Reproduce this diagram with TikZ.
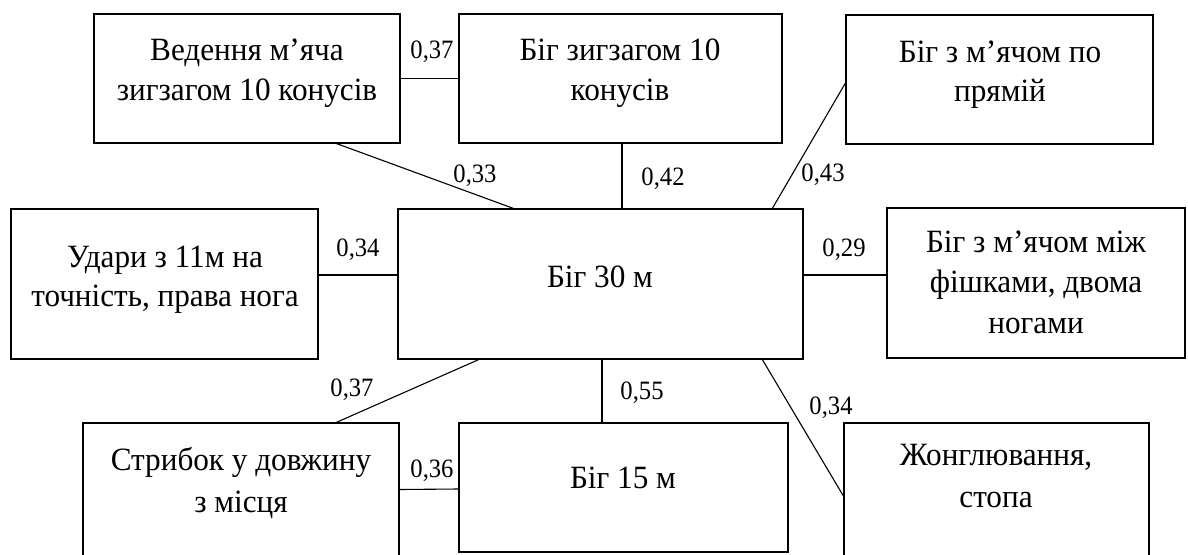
\documentclass[tikz,border=0pt]{standalone}
\usepackage{fontspec}
\setmainfont{Liberation Serif}
\newfontfamily\boxfont[FakeStretch=0.96]{Liberation Serif}
\newfontfamily\valfont[FakeStretch=0.93]{Liberation Serif}
\usetikzlibrary{calc}
\begin{document}
\begin{tikzpicture}[x=1pt,y=-1pt,
  box/.style={draw, line width=2.4pt, inner sep=0pt, outer sep=0pt, anchor=north west},
  conn/.style={line width=1.1pt},
  txt/.style={font=\boxfont\fontsize{32.5}{41}\selectfont, inner sep=0pt, anchor=base},
  val/.style={font=\valfont\fontsize{26.5}{30}\selectfont, inner sep=0pt, anchor=base}]
\useasboundingbox (0,0) rectangle (1188,554);
\clip (0,0) rectangle (1188,554);
% boxes
\node[box, minimum width=306pt, minimum height=129pt] (b1) at (94,14) {};
\node[box, minimum width=323pt, minimum height=129pt] (b2) at (459,14) {};
\node[box, minimum width=307pt, minimum height=129pt] (b3) at (846,15) {};
\node[box, minimum width=307pt, minimum height=150pt] (b4) at (11,209) {};
\node[box, minimum width=405pt, minimum height=150pt] (b5) at (398,209) {};
\node[box, minimum width=298pt, minimum height=150pt] (b6) at (887,208) {};
\node[box, minimum width=316pt, minimum height=140pt] (b7) at (83,423) {};
\node[box, minimum width=329pt, minimum height=129pt] (b8) at (459,423) {};
\node[box, minimum width=305pt, minimum height=140pt] (b9) at (844,423) {};
% texts
\node[txt] (t1a) at (247,60) {Ведення м’яча};
\node[txt] (t1b) at (247,100) {зигзагом 10 конусів};
\node[txt] (t2a) at (620,60) {Біг зигзагом 10};
\node[txt] (t2b) at (620,100) {конусів};
\node[txt] (t3a) at (1000,62) {Біг з м’ячом по};
\node[txt] (t3b) at (1000,101) {прямій};
\node[txt] (t4a) at (165,267) {Удари з 11м на};
\node[txt] (t4b) at (165,306) {точність, права нога};
\node[txt] (t5) at (600,287) {Біг 30 м};
\node[txt] (t6a) at (1036,252) {Біг з м’ячом між};
\node[txt] (t6b) at (1036,292) {фішками, двома};
\node[txt] (t6c) at (1036,333) {ногами};
\node[txt] (t7a) at (241,470) {Стрибок у довжину};
\node[txt] (t7b) at (241,512) {з місця};
\node[txt] (t8) at (623,488) {Біг 15 м};
\node[txt] (t9a) at (996,465) {Жонглювання,};
\node[txt] (t9b) at (996,507) {стопа};
% connectors
\draw[conn] (b1.east) -- (b2.west);
\draw[conn] ($(b1.south west)+(241,0)$) -- ($(b5.north west)+(117,0)$);
\draw[conn] ($(b2.south west)+(163,0)$) -- ($(b5.north west)+(224,0)$);
\draw[conn] ($(b5.north west)+(374,0)$) -- ($(b3.north west)+(0,67)$);
\draw[conn] ($(b4.east)+(0,-9)$) -- ($(b5.west)+(0,-9)$);
\draw[conn] ($(b5.east)+(0,-9)$) -- ($(b6.west)+(0,-8)$);
\draw[conn] ($(b5.south west)+(82,0)$) -- ($(b7.north west)+(252,0)$);
\draw[conn] ($(b5.south west)+(204,0)$) -- ($(b8.north west)+(143,0)$);
\draw[conn] ($(b5.south west)+(364,0)$) -- ($(b9.north west)+(0,74)$);
\draw[conn] ($(b7.east)+(0,-3.5)$) -- ($(b8.west)+(0,1.5)$);
% values
\node[val] (v1) at (432,58) {0,37};
\node[val] (v2) at (475,182) {0,33};
\node[val] (v3) at (663,185) {0,42};
\node[val] (v4) at (823,181) {0,43};
\node[val] (v5) at (358,256) {0,34};
\node[val] (v6) at (844,256) {0,29};
\node[val] (v7) at (352,396) {0,37};
\node[val] (v8) at (432,477) {0,36};
\node[val] (v9) at (642,399) {0,55};
\node[val] (v10) at (831,414) {0,34};
\end{tikzpicture}
\end{document}
